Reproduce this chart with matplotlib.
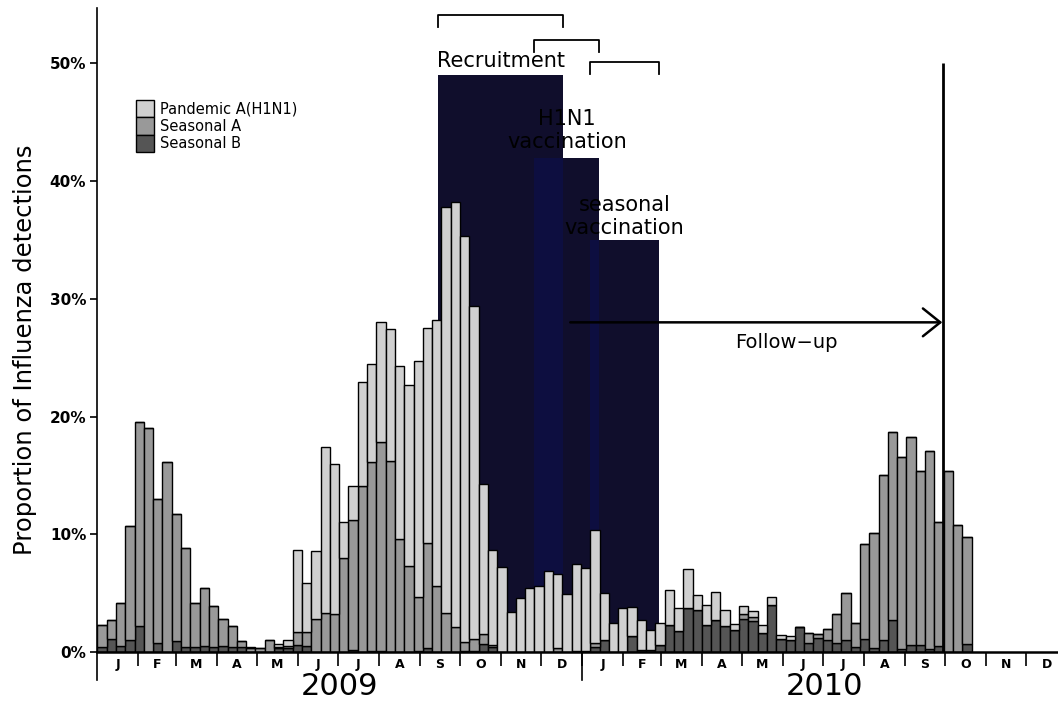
import numpy as np
import matplotlib
matplotlib.use("Agg")
import matplotlib.pyplot as plt
from matplotlib.patches import Rectangle

# weekly proportions (%) from first week of Jan 2009, stacked B / A / pandemic
pandemic = [0, 0, 0, 0, 0, 0, 0, 0, 0, 0, 0, 0, 0, 0, 0, 0, 0.15, 0, 0, 0.3,
            0.5, 6.96, 4.15, 5.8, 14.1, 12.8, 3.0, 2.9, 8.8, 8.4, 10.2, 11.2, 14.7, 15.4, 20.05, 18.2,
            22.6, 34.5, 36.15, 34.45, 28.3, 12.8, 8.1, 7.2, 3.4, 4.6, 5.45, 5.6, 6.9, 6.3, 4.9, 7.4,
            7.1, 9.6, 4.0, 2.5, 3.7, 2.4, 2.55, 1.7, 1.9, 3.0, 1.9, 3.35, 1.3, 1.65, 2.4, 1.4,
            0.5, 0.65, 0.55, 0.65, 0.65, 0.35, 0.35, 0, 0, 0, 0, 0, 0, 0, 0, 0,
            0, 0, 0, 0, 0, 0, 0, 0, 0, 0]
seasonal_a = [1.9, 1.6, 3.7, 9.7, 17.25, 19.0, 12.2, 16.1, 10.8, 8.4, 3.8, 4.9, 3.5, 2.3, 1.85, 0.5,
              0.3, 0.3, 1.0, 0.1, 0.2, 1.14, 1.2, 2.8, 3.3, 3.2, 8.0, 11.0, 14.1, 16.0, 17.7, 16.2,
              9.6, 7.3, 4.55, 9.0, 5.6, 3.3, 2.1, 0.75, 1.0, 0.85, 0.2, 0, 0, 0, 0, 0,
              0, 0.3, 0, 0, 0, 0.35, 0, 0, 0, 0, 0, 0, 0, 0, 0, 0,
              0, 0, 0, 0, 0, 0.45, 0.35, 0, 0, 0, 0, 0, 0.8, 0.35, 0.95, 2.45,
              4.05, 2.05, 8.05, 9.75, 14.0, 15.95, 16.3, 17.7, 14.8, 16.85, 10.5, 15.4, 10.8, 9.1]
seasonal_b = [0.4, 1.1, 0.5, 1.0, 2.25, 0, 0.8, 0, 0.9, 0.4, 0.4, 0.5, 0.4, 0.5, 0.4, 0.4,
              0, 0, 0, 0.3, 0.3, 0.6, 0.5, 0, 0, 0, 0, 0.2, 0, 0.1, 0.1, 0,
              0, 0, 0.1, 0.3, 0, 0, 0, 0.1, 0.1, 0.65, 0.4, 0, 0, 0, 0, 0,
              0, 0, 0, 0.1, 0.05, 0.45, 1.0, 0, 0, 1.4, 0.2, 0.2, 0.6, 2.3, 1.8, 3.7,
              3.55, 2.3, 2.7, 2.2, 1.9, 2.8, 2.6, 1.65, 4.0, 1.1, 1.0, 2.15, 0.8, 1.2, 1.0, 0.8,
              1.0, 0.45, 1.1, 0.35, 1.0, 2.75, 0.25, 0.6, 0.6, 0.25, 0.5, 0, 0, 0.65]

month_letters = ['J', 'F', 'M', 'A', 'M', 'J', 'J', 'A', 'S', 'O', 'N', 'D'] * 2
month_lengths = [31, 28, 31, 30, 31, 30, 31, 31, 30, 31, 30, 31] * 2
years = ['2009', '2010']

# study periods (day since 1 Jan 2009): start, end, height of block (%)
periods = [('Recruitment', 256.7, 350.7, 49),
           ('H1N1\nvaccination', 328.9, 377.8, 42),
           ('seasonal\nvaccination', 370.5, 422.8, 35)]
bracket_y = [54.1, 52.0, 50.1]
label_y = [50.2, 44.3, 37.0]
followup_start, followup_end, followup_level = 356, 636, 28

col_p, col_a, col_b = '#d0d0d0', '#999999', '#555555'
navy, navy_overlap = '#100e2c', '#0d0e40'

fig = plt.figure(figsize=(10.58, 7.05), dpi=100)
ax = fig.add_axes([97.3 / 1058, 53 / 705, 1 - 97.3 / 1058, 644 / 705])

# shaded periods
for name, x0, x1, top in periods:
    ax.add_patch(Rectangle((x0, 0), x1 - x0, top, facecolor=navy, edgecolor='none', zorder=1))
for i in range(len(periods) - 1):
    a, b = periods[i], periods[i + 1]
    ax.add_patch(Rectangle((b[1], 0), a[2] - b[1], min(a[3], b[3]),
                           facecolor=navy_overlap, edgecolor='none', zorder=1))

weeks = np.arange(len(pandemic)) * 7
b = np.array(seasonal_b)
a = np.array(seasonal_a)
p = np.array(pandemic)
kw = dict(width=7, align='edge', edgecolor='black', linewidth=1.0, zorder=2)
ax.bar(weeks, b, color=col_b, label='Seasonal B', **kw)
ax.bar(weeks, a, bottom=b, color=col_a, label='Seasonal A', **kw)
ax.bar(weeks, p, bottom=a + b, color=col_p, label='Pandemic A(H1N1)', **kw)

# brackets and labels
for (name, x0, x1, top), by, ly in zip(periods, bracket_y, label_y):
    ax.plot([x0, x0, x1, x1], [by - 1.0, by, by, by - 1.0], color='black', lw=1.3, zorder=3)
    ax.text((x0 + x1) / 2, ly, name, ha='center', va='center', fontsize=15, zorder=4)

# follow-up
ax.annotate('', xy=(followup_end, followup_level), xytext=(followup_start, followup_level),
            arrowprops=dict(arrowstyle='->, head_length=0.5, head_width=0.4', lw=1.8,
                            mutation_scale=25, color='black', shrinkA=0, shrinkB=0), zorder=4)
ax.text((followup_start + followup_end) / 2 + 23, followup_level - 1.7, 'Follow\u2212up',
        ha='center', va='center', fontsize=14)
ax.vlines(followup_end + 0.5, 0, 50, color='black', lw=2, zorder=4)

# axes
ax.set_xlim(0, 723.1)
ax.set_ylim(0, 54.7)
ax.spines['top'].set_visible(False)
ax.spines['right'].set_visible(False)
ax.spines['left'].set_linewidth(1.2)
ax.spines['bottom'].set_linewidth(1.8)

ax.set_yticks(np.arange(0, 51, 10))
ax.set_yticklabels(['%d%%' % v for v in range(0, 51, 10)], fontsize=11, fontweight='bold')
ax.tick_params(axis='y', length=5, width=1.2, pad=3)

bounds = np.concatenate([[0], np.cumsum(month_lengths)])
mids = (bounds[:-1] + bounds[1:]) / 2
ax.set_xticks(bounds[1:-1])
ax.set_xticklabels([])
ax.set_xticks(mids, minor=True)
ax.set_xticklabels(month_letters, minor=True, fontsize=9, fontweight='bold')
ax.tick_params(axis='x', which='major', length=10, width=1.2, direction='out')
ax.tick_params(axis='x', which='minor', length=0, pad=4)

trans = ax.get_xaxis_transform()
year_bounds = [0, 365]
for i, yr in enumerate(years):
    ax.plot([year_bounds[i], year_bounds[i]], [0, -0.044], transform=trans, color='black',
            lw=1.2, clip_on=False)
    ax.text(bounds[12 * i] + 182, -0.053, yr, transform=trans, ha='center', va='center',
            fontsize=22)

ax.set_ylabel('Proportion of Influenza detections', fontsize=17.5)
ax.yaxis.set_label_coords(-0.063, 0.469)

# legend
handles, labels = ax.get_legend_handles_labels()
leg = ax.legend(handles[::-1], labels[::-1], loc='upper left',
                bbox_to_anchor=(136 / 1058, 1 - 100 / 705), bbox_transform=fig.transFigure,
                frameon=False, fontsize=10.5, handlelength=1.2, handleheight=1.45,
                labelspacing=0.0, handletextpad=0.45, borderpad=0, borderaxespad=0)

fig.savefig('out.png', dpi=100)
